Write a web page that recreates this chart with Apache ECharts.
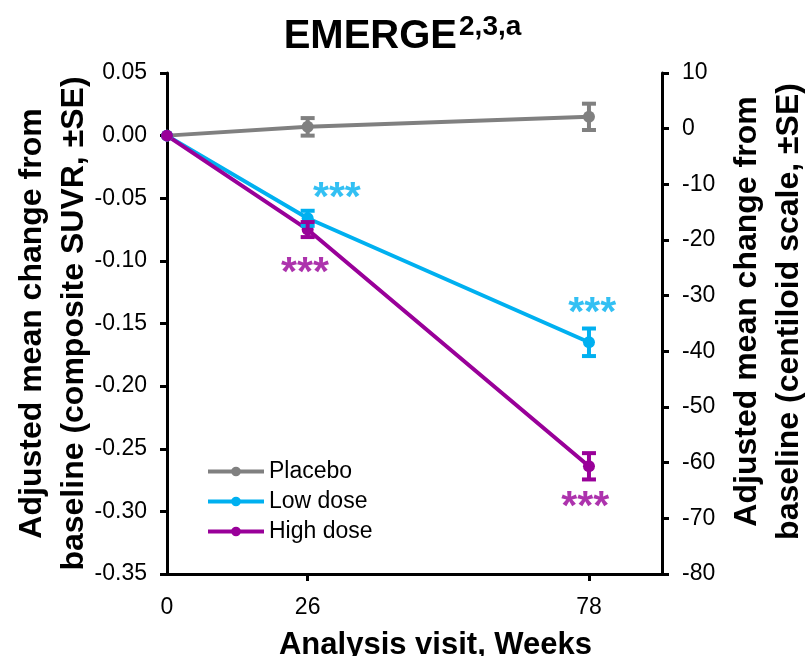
<!DOCTYPE html>
<html>
<head>
<meta charset="utf-8">
<script src="https://cdn.jsdelivr.net/npm/echarts@6/dist/echarts.min.js"></script>
<style>
  html, body { margin: 0; padding: 0; background: #fff; }
  #chart { width: 805px; height: 656px; }
</style>
</head>
<body>
<div id="chart"></div>
<script>
// EMERGE amyloid PET change from baseline
const weeks = [0, 26, 78];
const weekLabels = [0, 26, 78];
const placebo = [0, 0.007, 0.015];
const placeboSE = [0, 0.007, 0.0105];
const lowDose = [0, -0.066, -0.165];
const lowDoseSE = [0, 0.006, 0.011];
const highDose = [0, -0.075, -0.264];
const highDoseSE = [0, 0.006, 0.0105];
// significance marks: [week, suvr]
const lowStars = [[31.4, -0.050], [78.6, -0.142]];
const highStars = [[25.5, -0.110], [77.3, -0.297]];

const COLORS = { placebo: '#808080', low: '#00B0F0', high: '#990099' };
const FONT = 'Liberation Sans, Arial, sans-serif';

function pairs(vals) {
  return weeks.map((w, i) => [w, vals[i]]);
}

function errData(vals, se) {
  return weeks.map((w, i) => [w, vals[i] - se[i], vals[i] + se[i]]).filter((d, i) => se[i] > 0);
}

function errorBar(color) {
  return function (params, api) {
    const lo = api.coord([api.value(0), api.value(1)]);
    const hi = api.coord([api.value(0), api.value(2)]);
    const w = 7;
    const style = { stroke: color, lineWidth: 4 };
    return {
      type: 'group',
      children: [
        { type: 'line', shape: { x1: lo[0], y1: lo[1], x2: hi[0], y2: hi[1] }, style },
        { type: 'line', shape: { x1: lo[0] - w, y1: lo[1], x2: lo[0] + w, y2: lo[1] }, style },
        { type: 'line', shape: { x1: hi[0] - w, y1: hi[1], x2: hi[0] + w, y2: hi[1] }, style }
      ]
    };
  };
}

function lineSeries(name, vals, color) {
  return {
    name, type: 'line', data: pairs(vals), symbol: 'circle', symbolSize: 12,
    lineStyle: { color, width: 4 }, itemStyle: { color }, z: 3
  };
}

function errSeries(vals, se, color) {
  return { type: 'custom', data: errData(vals, se), renderItem: errorBar(color), z: 4, silent: true };
}

function starSeries(data, color) {
  return {
    type: 'scatter', data, symbolSize: 0, silent: true, z: 5,
    label: { show: true, position: 'inside', formatter: '***', fontSize: 41, fontWeight: 'bold', color, fontFamily: FONT }
  };
}

const chart = echarts.init(document.getElementById('chart'));
chart.setOption({
  animation: false,
  textStyle: { fontFamily: FONT },
  title: {
    text: '{a|EMERGE}{b|2,3,a}',
    left: 'center',
    top: 8,
    textStyle: {
      rich: {
        a: { fontSize: 40, fontWeight: 'bold', color: '#000', fontFamily: FONT, verticalAlign: 'bottom', lineHeight: 44 },
        b: { fontSize: 28, fontWeight: 'bold', color: '#000', fontFamily: FONT, verticalAlign: 'top', lineHeight: 44, padding: [0, 0, 0, 2] }
      }
    }
  },
  legend: {
    data: ['Placebo', 'Low dose', 'High dose'],
    orient: 'vertical', left: 201, top: 454,
    itemWidth: 56, itemHeight: 12, itemGap: 5,
    lineStyle: { width: 4 },
    textStyle: { fontSize: 23, color: '#000', fontFamily: FONT, lineHeight: 25 }
  },
  grid: { left: 167, right: 143, top: 73, bottom: 82, outerBoundsMode: 'none' },
  xAxis: {
    type: 'value', min: 0, max: 91.5,
    name: 'Analysis visit, Weeks', nameLocation: 'middle', nameGap: 56,
    nameTextStyle: { fontSize: 31, fontWeight: 'bold', color: '#000', padding: [0, 0, 0, 42] },
    axisLine: { onZero: false, lineStyle: { color: '#000', width: 3 } },
    axisTick: { show: true, length: 7, lineStyle: { color: '#000', width: 3 }, customValues: [26, 78] },
    axisLabel: { fontSize: 23, color: '#000', margin: 22, customValues: weekLabels },
    splitLine: { show: false }
  },
  yAxis: [{
    type: 'value', min: -0.35, max: 0.05, interval: 0.05, position: 'left',
    name: 'Adjusted mean change from\nbaseline (composite SUVR, \u00B1SE)',
    nameLocation: 'middle', nameRotate: 90, nameGap: 72, nameMoveOverlap: false,
    nameTextStyle: { fontSize: 32, fontWeight: 'bold', color: '#000', lineHeight: 42 },
    axisLine: { show: true, lineStyle: { color: '#000', width: 3 } },
    axisTick: { show: true, length: 7, lineStyle: { color: '#000', width: 3 } },
    axisLabel: { fontSize: 23, color: '#000', margin: 20, formatter: v => v.toFixed(2) },
    splitLine: { show: false }
  }, {
    type: 'value', min: -80, max: 10, interval: 10, position: 'right',
    name: 'Adjusted mean change from\nbaseline (centiloid scale, \u00B1SE)',
    nameLocation: 'middle', nameRotate: 90, nameGap: 58,
    nameTextStyle: { fontSize: 32, fontWeight: 'bold', color: '#000', lineHeight: 42, padding: [0, 0, 0, 24] },
    axisLine: { show: true, lineStyle: { color: '#000', width: 3 } },
    axisTick: { show: true, length: 7, lineStyle: { color: '#000', width: 3 } },
    axisLabel: { fontSize: 23, color: '#000', margin: 20 },
    splitLine: { show: false }
  }],
  series: [
    lineSeries('Placebo', placebo, COLORS.placebo),
    lineSeries('Low dose', lowDose, COLORS.low),
    lineSeries('High dose', highDose, COLORS.high),
    errSeries(placebo, placeboSE, COLORS.placebo),
    errSeries(lowDose, lowDoseSE, COLORS.low),
    errSeries(highDose, highDoseSE, COLORS.high),
    starSeries(lowStars, COLORS.low),
    starSeries(highStars, COLORS.high)
  ]
});
</script>
</body>
</html>
